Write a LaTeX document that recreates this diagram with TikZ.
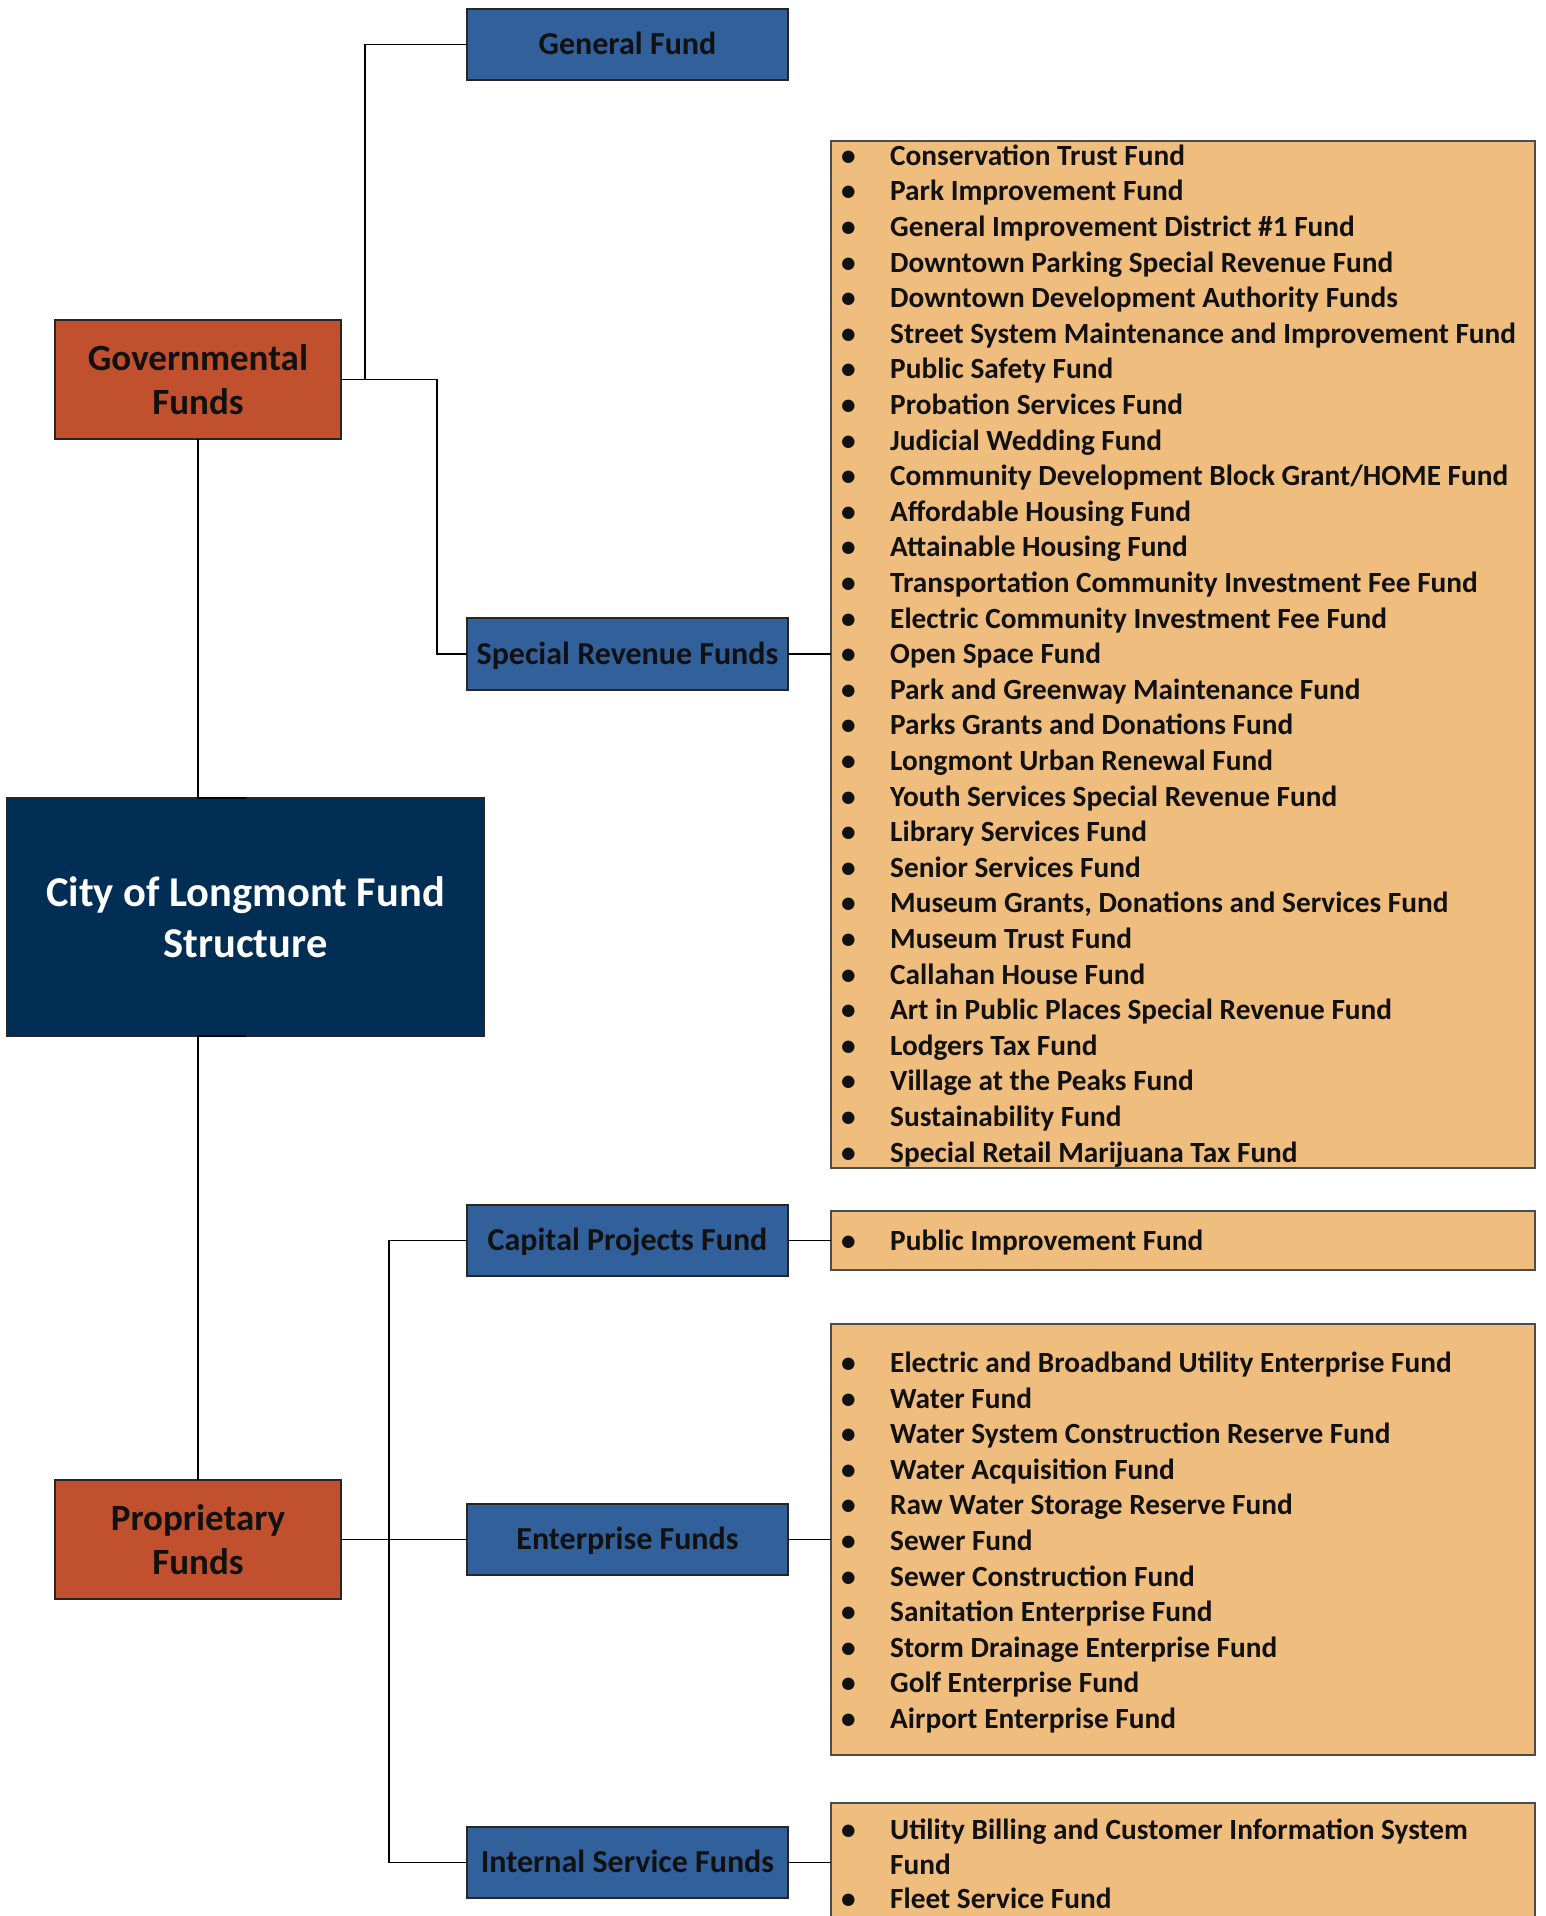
\documentclass[tikz,border=0pt]{standalone}
\usepackage{fontspec}
\setmainfont{Carlito}
\definecolor{fundblue}{HTML}{31609A}
\definecolor{fundred}{HTML}{C1502E}
\definecolor{fundnavy}{HTML}{002E55}
\definecolor{fundpeach}{HTML}{EFBD7E}
\definecolor{txtdark}{HTML}{111111}
\begin{document}
\begin{tikzpicture}[x=1pt,y=-1pt,
  box/.style={draw=black!85, line width=1.3pt, inner sep=0pt, outer sep=0pt, rectangle},
  bluebox/.style={box, fill=fundblue, minimum width=321pt, minimum height=71pt, font=\fontsize{32}{38}\selectfont\bfseries, text=txtdark, text height=20.5pt, text depth=0pt},
  redbox/.style={box, align=center, fill=fundred, minimum width=286pt, minimum height=119pt, font=\fontsize{37}{44}\selectfont\bfseries, text=txtdark},
  navybox/.style={box, align=center, fill=fundnavy, minimum width=477pt, minimum height=238pt, font=\fontsize{42.5}{51}\selectfont\bfseries, text=white},
  listbox/.style={box, draw=black!70, fill=fundpeach, minimum width=704pt},
  item/.style={anchor=base west, inner sep=0pt, font=\fontsize{29.3}{35}\selectfont\bfseries, text=txtdark},
  conn/.style={draw=black, line width=1.6pt}
]
\useasboundingbox (0,0) rectangle (1546,1916);
\fill[white] (0,0) rectangle (1546,1916);

% orange lists
\node[listbox, minimum height=1027pt] (srflist) at (1183,654.5) {};
\node[listbox, minimum height=59pt] (pilist) at (1183,1240.5) {};
\node[listbox, minimum height=431pt] (entlist) at (1183,1539.5) {};
\node[listbox, minimum height=160pt] (isflist) at (1183,1883) {};

% main boxes
\node[bluebox] (gf) at (627.5,44.5) {General Fund};
\node[bluebox, minimum height=72pt] (srf) at (627.5,654) {Special Revenue Funds};
\node[bluebox] (cap) at (627.5,1240.5) {Capital Projects Fund};
\node[bluebox] (ent) at (627.5,1539.5) {Enterprise Funds};
\node[bluebox] (isf) at (627.5,1862.5) {Internal Service Funds};
\node[redbox] (gov) at (198,379.5) {Governmental\\Funds};
\node[redbox] (prop) at (198,1539.5) {Proprietary\\Funds};
\node[navybox] (city) at (245.5,917) {City of Longmont Fund\\Structure};

% connectors
\draw[conn] (gov.east) -- ++(24,0) |- (gf.west);
\draw[conn] (gov.east) -- ++(96,0) |- (srf.west);
\draw[conn] (gov.south) |- (city.north);
\draw[conn] (city.south) -| (prop.north);
\draw[conn] (prop.east) -- ++(48,0) |- (cap.west);
\draw[conn] (prop.east) -- (ent.west);
\draw[conn] (prop.east) -- ++(48,0) |- (isf.west);
\draw[conn] (srf.east) -- (srf.east -| srflist.west);
\draw[conn] (cap.east) -- (cap.east -| pilist.west);
\draw[conn] (ent.east) -- (ent.east -| entlist.west);
\draw[conn] (isf.east) -- (isf.east -| isflist.west);

% special revenue items
\foreach \t [count=\i from 0] in {
  Conservation Trust Fund,
  Park Improvement Fund,
  General Improvement District \#1 Fund,
  Downtown Parking Special Revenue Fund,
  Downtown Development Authority Funds,
  Street System Maintenance and Improvement Fund,
  Public Safety Fund,
  Probation Services Fund,
  Judicial Wedding Fund,
  Community Development Block Grant/HOME Fund,
  Affordable Housing Fund,
  Attainable Housing Fund,
  Transportation Community Investment Fee Fund,
  Electric Community Investment Fee Fund,
  Open Space Fund,
  Park and Greenway Maintenance Fund,
  Parks Grants and Donations Fund,
  Longmont Urban Renewal Fund,
  Youth Services Special Revenue Fund,
  Library Services Fund,
  Senior Services Fund,
  {Museum Grants, Donations and Services Fund},
  Museum Trust Fund,
  Callahan House Fund,
  Art in Public Places Special Revenue Fund,
  Lodgers Tax Fund,
  Village at the Peaks Fund,
  Sustainability Fund,
  Special Retail Marijuana Tax Fund}
{
  \node[item] (sb\i) at (841,155.2+35.6*\i+10) {•};
  \node[item] (st\i) at (890,155.2+35.6*\i+10) {\t};
}

% capital projects item
\node[item] (pb) at (841,1240+10) {•};
\node[item] (pt) at (890,1240+10) {Public Improvement Fund};

% enterprise items
\foreach \t [count=\i from 0] in {
  Electric and Broadband Utility Enterprise Fund,
  Water Fund,
  Water System Construction Reserve Fund,
  Water Acquisition Fund,
  Raw Water Storage Reserve Fund,
  Sewer Fund,
  Sewer Construction Fund,
  Sanitation Enterprise Fund,
  Storm Drainage Enterprise Fund,
  Golf Enterprise Fund,
  Airport Enterprise Fund}
{
  \node[item] (eb\i) at (841,1362.6+35.57*\i+10) {•};
  \node[item] (et\i) at (890,1362.6+35.57*\i+10) {\t};
}

% internal service items
\node[item] (ib0) at (841,1829+10) {•};
\node[item] (it0) at (890,1829+10) {Utility Billing and Customer Information System};
\node[item] (it0b) at (890,1864+10) {Fund};
\node[item] (ib1) at (841,1898+10) {•};
\node[item] (it1) at (890,1898+10) {Fleet Service Fund};
\end{tikzpicture}
\end{document}
